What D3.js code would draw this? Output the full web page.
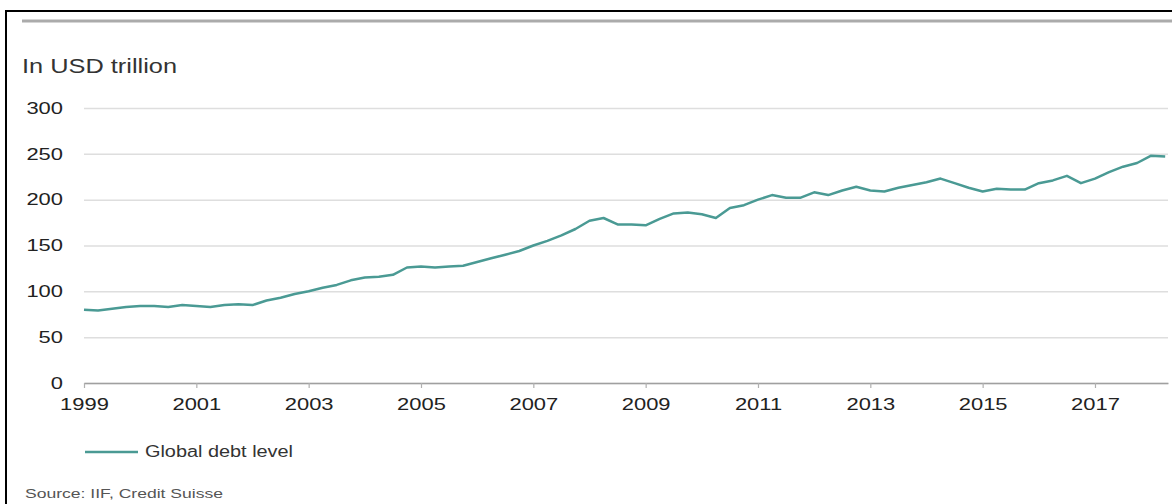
<!DOCTYPE html>
<html>
<head>
<meta charset="utf-8">
<script src="https://cdn.jsdelivr.net/npm/d3@7"></script>
<style>
  html, body { margin: 0; padding: 0; background: #ffffff; }
  svg { display: block; font-family: "Liberation Sans", Arial, Helvetica, sans-serif; }
</style>
</head>
<body>
<svg id="chart" width="1172" height="504"></svg>
<script>
// ---- data ----
const periods = [
  "1999Q1","1999Q2","1999Q3","1999Q4","2000Q1","2000Q2","2000Q3","2000Q4",
  "2001Q1","2001Q2","2001Q3","2001Q4","2002Q1","2002Q2","2002Q3","2002Q4",
  "2003Q1","2003Q2","2003Q3","2003Q4","2004Q1","2004Q2","2004Q3","2004Q4",
  "2005Q1","2005Q2","2005Q3","2005Q4","2006Q1","2006Q2","2006Q3","2006Q4",
  "2007Q1","2007Q2","2007Q3","2007Q4","2008Q1","2008Q2","2008Q3","2008Q4",
  "2009Q1","2009Q2","2009Q3","2009Q4","2010Q1","2010Q2","2010Q3","2010Q4",
  "2011Q1","2011Q2","2011Q3","2011Q4","2012Q1","2012Q2","2012Q3","2012Q4",
  "2013Q1","2013Q2","2013Q3","2013Q4","2014Q1","2014Q2","2014Q3","2014Q4",
  "2015Q1","2015Q2","2015Q3","2015Q4","2016Q1","2016Q2","2016Q3","2016Q4",
  "2017Q1","2017Q2","2017Q3","2017Q4","2018Q1","2018Q2"
];
const globalDebt = [
  80, 79, 81, 83, 84, 84, 83, 85,
  84, 83, 85, 86, 85, 90, 93, 97,
  100, 104, 107, 112, 115, 116, 118, 126,
  127, 126, 127, 128, 132, 136, 140, 144,
  150, 155, 161, 168, 177, 180, 173, 173,
  172, 179, 185, 186, 184, 180, 191, 194,
  200, 205, 202, 202, 208, 205, 210, 214,
  210, 209, 213, 216, 219, 223, 218, 213,
  209, 212, 211, 211, 218, 221, 226, 218,
  223, 230, 236, 240, 248, 247
];
const xTickYears = [1999, 2001, 2003, 2005, 2007, 2009, 2011, 2013, 2015, 2017];
const yTicks = [0, 50, 100, 150, 200, 250, 300];
const seriesName = "Global debt level";
const unitLabel = "In USD trillion";
const sourceText = "Source: IIF, Credit Suisse";

// ---- setup ----
const svg = d3.select("#chart");
const lineColor = "#4a9a94";
const sx = 1.33; // horizontal text stretch seen in the reference

const data = periods.map((p, i) => ({
  t: +p.slice(0, 4) + (+p.slice(5) - 1) / 4,
  v: globalDebt[i]
}));

const x = d3.scaleLinear().domain([1999, 2018.3]).range([84, 1168]);
const y = d3.scaleLinear().domain([0, 300]).range([383, 108]);

// frame
svg.append("rect")
  .attr("x", 6).attr("y", 11).attr("width", 1200).attr("height", 600)
  .attr("fill", "none").attr("stroke", "#000").attr("stroke-width", 2);
svg.append("line")
  .attr("x1", 22).attr("x2", 1172).attr("y1", 21).attr("y2", 21)
  .attr("stroke", "#ababab").attr("stroke-width", 3);

// unit label
svg.append("text")
  .attr("x", 22).attr("y", 73)
  .attr("font-size", 21).attr("fill", "#333")
  .attr("textLength", 155).attr("lengthAdjust", "spacingAndGlyphs")
  .text(unitLabel);

// y axis with gridlines
const yAxis = svg.append("g")
  .attr("transform", "translate(84,0)")
  .call(d3.axisLeft(y).tickValues(yTicks).tickSize(-(1168 - 84)).tickPadding(21).tickFormat(d3.format("d")));
yAxis.select(".domain").remove();
yAxis.selectAll(".tick line").attr("stroke", "#dedede").attr("stroke-width", 1.5);
yAxis.selectAll(".tick text")
  .attr("font-size", 16.5).attr("fill", "#222")
  .attr("font-family", "'Liberation Sans', Arial, sans-serif")
  .attr("x", -21 / sx)
  .attr("transform", `scale(${sx},1)`);

// x axis
const xAxis = svg.append("g")
  .attr("transform", "translate(0,383)")
  .call(d3.axisBottom(x).tickValues(xTickYears).tickSize(5).tickPadding(10).tickSizeOuter(0).tickFormat(d3.format("d")));
xAxis.select(".domain").attr("stroke", "#a0a0a0").attr("stroke-width", 1.5);
xAxis.selectAll(".tick line").attr("stroke", "#b0b0b0").attr("stroke-width", 1.2);
xAxis.selectAll(".tick text")
  .attr("font-size", 16.5).attr("fill", "#222")
  .attr("font-family", "'Liberation Sans', Arial, sans-serif")
  .attr("x", 0)
  .attr("transform", `scale(${sx},1)`);

// line
svg.append("path")
  .datum(data)
  .attr("fill", "none")
  .attr("stroke", lineColor)
  .attr("stroke-width", 2.5)
  .attr("stroke-linejoin", "round")
  .attr("d", d3.line().x(d => x(d.t)).y(d => y(d.v)));

// legend
svg.append("line")
  .attr("x1", 85).attr("x2", 138).attr("y1", 452).attr("y2", 452)
  .attr("stroke", lineColor).attr("stroke-width", 2.5);
svg.append("text")
  .attr("x", 145).attr("y", 457)
  .attr("font-size", 16).attr("fill", "#333")
  .attr("textLength", 148).attr("lengthAdjust", "spacingAndGlyphs")
  .text(seriesName);

// source
svg.append("text")
  .attr("x", 25).attr("y", 498)
  .attr("font-size", 13.5).attr("fill", "#555")
  .attr("textLength", 198).attr("lengthAdjust", "spacingAndGlyphs")
  .text(sourceText);
</script>
</body>
</html>
